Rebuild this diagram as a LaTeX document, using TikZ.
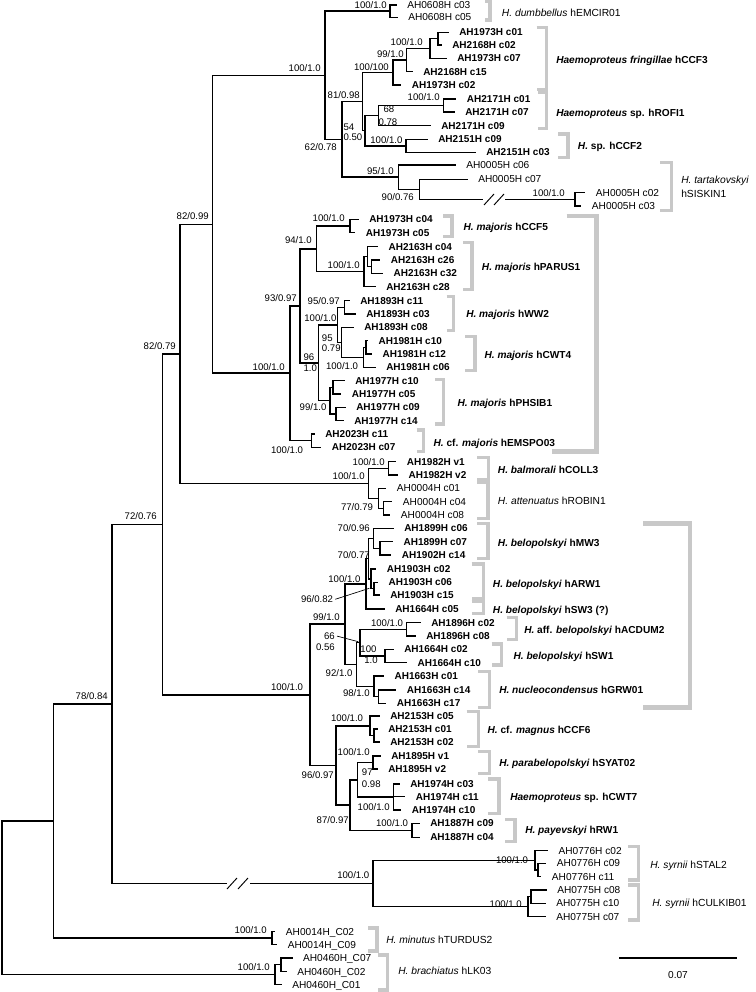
\documentclass[tikz,border=0pt]{standalone}
\usepackage{fontspec}
\setmainfont{Liberation Sans}
\definecolor{bgray}{HTML}{C8C8C8}
\tikzset{
 br/.style={line width=1.15pt, line cap=rect, black},
 leader/.style={line width=0.5pt, black},
 gbr/.style={line width=2.3pt, bgray},
 gbig/.style={line width=3.5pt, bgray},
 tipB/.style={font=\fontsize{7.5}{9}\selectfont\bfseries, inner sep=0pt, anchor=base west},
 tipR/.style={font=\fontsize{7.6}{9}\selectfont, inner sep=0pt, anchor=base west},
 supR/.style={font=\fontsize{7.2}{9}\selectfont, inner sep=0pt, anchor=base east},
 supL/.style={font=\fontsize{7.2}{9}\selectfont, inner sep=0pt, anchor=base west},
 cladeB/.style={font=\fontsize{7.6}{9.2}\selectfont\bfseries, inner sep=0pt, anchor=base west},
 cladeR/.style={font=\fontsize{7.7}{9.2}\selectfont, inner sep=0pt, anchor=base west},
}
\newcommand\mytipb[5]{\coordinate (#1) at ({#3-11},#4);\node[tipB] (#1l) at (#3,{#4+3.6}) {#5};\draw[br] (#2) |- (#1);}
\newcommand\mytipr[5]{\coordinate (#1) at ({#3-11},#4);\node[tipR] (#1l) at (#3,{#4+3.6}) {#5};\draw[br] (#2) |- (#1);}
\newcommand\mysr[4]{\node[supR] (#1) at (#2,{#3+3.4}) {#4};}
\newcommand\mysl[4]{\node[supL] (#1) at (#2,{#3+3.4}) {#4};}
\newcommand\mybr[4]{\draw[gbr] (#1,#3) -- (#2,#3) -- (#2,#4) -- (#1,#4);}
\newcommand\myclb[4]{\node[cladeB] (#1) at (#2,{#3+3.7}) {#4};}
\newcommand\myclr[4]{\node[cladeR] (#1) at (#2,{#3+3.7}) {#4};}
\begin{document}
\begin{tikzpicture}[x=0.75pt,y=-0.75pt]
\fill[white] (0,0) rectangle (756,992);
\useasboundingbox (0,0) rectangle (756,992);
% internal nodes
\coordinate (R) at (2,897.7);
\coordinate (A) at (53.6,821);
\coordinate (B) at (111.8,703.9);
\coordinate (N7276) at (162.7,524.3);
\coordinate (N8279) at (180,353.8);
\coordinate (N8299) at (212.7,224.3);
\coordinate (NTOP) at (325,75.3);
\coordinate (DUMB) at (390,11.2);
\coordinate (N6278) at (342,139.4);
\coordinate (N8198) at (362.7,101.6);
\coordinate (F1) at (393,72.5);
\coordinate (F2) at (406.7,60.1);
\coordinate (F3) at (430,48.5);
\coordinate (F4) at (438,38.7);
\coordinate (N54) at (365,130.7);
\coordinate (R1) at (378.3,115.6);
\coordinate (R2) at (443.3,105.5);
\coordinate (C2) at (406,145.8);
\coordinate (TART) at (398.3,177.2);
\coordinate (T90) at (419.3,189.3);
\coordinate (TS) at (575,199.3);
\coordinate (MAJ) at (290,373.2);
\coordinate (M93) at (300,305.8);
\coordinate (M94) at (316.7,248.9);
\coordinate (CCF5) at (350,226);
\coordinate (P1) at (364,271.7);
\coordinate (P2) at (367.3,256.7);
\coordinate (P3) at (371.7,266.7);
\coordinate (M96) at (318.3,362.8);
\coordinate (WC) at (337.5,324.8);
\coordinate (W2a) at (344.3,307.3);
\coordinate (X) at (341.7,342.3);
\coordinate (CW) at (363.3,357.3);
\coordinate (CWa) at (366,347.3);
\coordinate (PH) at (330,400.7);
\coordinate (PHa) at (333,387.3);
\coordinate (PHb) at (336,414);
\coordinate (EM) at (311.7,440.7);
\coordinate (BA) at (368.3,483.3);
\coordinate (BAL) at (388.3,468.3);
\coordinate (ATT) at (378.3,498.3);
\coordinate (ATT2) at (383.3,508.3);
\coordinate (BIG) at (310,694.8);
\coordinate (N99) at (345,624.2);
\coordinate (N9682) at (366,583.8);
\coordinate (N7077) at (368.3,558.5);
\coordinate (MW) at (373.3,538.3);
\coordinate (MWb) at (380,548.3);
\coordinate (ARW) at (371,578.8);
\coordinate (A2) at (374,588.7);
\coordinate (N92) at (356.7,664.5);
\coordinate (N66) at (360,642.7);
\coordinate (ACD) at (406.7,629.3);
\coordinate (SW1) at (385,656);
\coordinate (G) at (374,686.3);
\coordinate (G2) at (378.3,696.7);
\coordinate (N96) at (336,765.4);
\coordinate (C6) at (370,725.8);
\coordinate (C6b) at (374,735.5);
\coordinate (N87) at (350,805);
\coordinate (N97) at (357.3,779.8);
\coordinate (S) at (373,762.5);
\coordinate (W7) at (393.3,797);
\coordinate (PAY) at (412,830.3);
\coordinate (SYR) at (373.2,883.5);
\coordinate (STAL) at (535,860.3);
\coordinate (STb) at (538,870);
\coordinate (CUL) at (528,906.7);
\coordinate (CUb) at (531,896.7);
\coordinate (MIN) at (272,938);
\coordinate (BR) at (275,974.6);
\coordinate (BR2) at (281,964.7);
% break points
\coordinate (bk1a) at (226,883.5);
\coordinate (bk1b) at (251,883.5);
\coordinate (bk2a) at (482,199.3);
\coordinate (bk2b) at (506,199.3);
% internal edges
\draw[br] (R) |- (A); \draw[br] (R) |- (BR);
\draw[br] (A) |- (B); \draw[br] (A) |- (MIN);
\draw[br] (B) |- (N7276); \draw[br] (B) |- (bk1a); \draw[br] (bk1b) -- (SYR);
\draw[br] (N7276) |- (N8279); \draw[br] (N7276) |- (BIG);
\draw[br] (N8279) |- (N8299); \draw[br] (N8279) |- (BA);
\draw[br] (N8299) |- (NTOP); \draw[br] (N8299) |- (MAJ);
\draw[br] (NTOP) |- (DUMB); \draw[br] (NTOP) |- (N6278);
\draw[br] (N6278) |- (N8198); \draw[br] (N6278) |- (TART);
\draw[br] (N8198) |- (F1); \draw[br] (N8198) |- (N54);
\draw[br] (F1) |- (F2); \draw[br] (F2) |- (F3); \draw[br] (F3) |- (F4);
\draw[br] (N54) |- (R1); \draw[br] (N54) |- (C2);
\draw[br] (R1) |- (R2);
\draw[br] (TART) |- (T90);
\draw[br] (T90) |- (bk2a); \draw[br] (bk2b) -- (TS);
\draw[br] (MAJ) |- (M93); \draw[br] (MAJ) |- (EM);
\draw[br] (M93) |- (M94); \draw[br] (M93) |- (M96);
\draw[br] (M94) |- (CCF5); \draw[br] (M94) |- (P1);
\draw[br] (P1) |- (P2); \draw[br] (P2) |- (P3);
\draw[br] (M96) |- (WC); \draw[br] (M96) |- (PH);
\draw[br] (WC) |- (W2a); \draw[br] (WC) |- (X);
\draw[br] (X) |- (CW); \draw[br] (CW) |- (CWa);
\draw[br] (PH) |- (PHa); \draw[br] (PH) |- (PHb);
\draw[br] (BA) |- (BAL); \draw[br] (BA) |- (ATT); \draw[br] (ATT) |- (ATT2);
\draw[br] (BIG) |- (N99); \draw[br] (BIG) |- (N96);
\draw[br] (N99) |- (N9682); \draw[br] (N99) |- (N92);
\draw[br] (N9682) |- (N7077);
\draw[br] (N7077) |- (MW); \draw[br] (N7077) |- (ARW);
\draw[br] (MW) |- (MWb); \draw[br] (ARW) |- (A2);
\draw[br] (N92) |- (N66); \draw[br] (N92) |- (G);
\draw[br] (N66) |- (ACD); \draw[br] (N66) |- (SW1);
\draw[br] (G) |- (G2);
\draw[br] (N96) |- (C6); \draw[br] (N96) |- (N87);
\draw[br] (C6) |- (C6b);
\draw[br] (N87) |- (N97); \draw[br] (N87) |- (PAY);
\draw[br] (N97) |- (S); \draw[br] (N97) |- (W7);
\draw[br] (SYR) |- (STAL); \draw[br] (SYR) |- (CUL);
\draw[br] (STAL) |- (STb); \draw[br] (CUL) |- (CUb);
\draw[br] (BR) |- (BR2);
% break marks
\draw[line width=0.7pt] (227,889) -- (237,878); \draw[line width=0.7pt] (238,889) -- (248,878);
\draw[line width=0.7pt] (484,205) -- (494,194); \draw[line width=0.7pt] (494,205) -- (504,194);
% tips
\mytipr{t01}{DUMB}{407}{5}{AH0608H c03}
\mytipr{t02}{DUMB}{408}{17.3}{AH0608H c05}
\mytipb{t03}{F4}{459}{32.3}{AH1973H c01}
\mytipb{t04}{F4}{452}{45}{AH2168H c02}
\mytipb{t05}{F3}{457}{58.3}{AH1973H c07}
\mytipb{t06}{F2}{423}{71.7}{AH2168H c15}
\mytipb{t07}{F1}{411.7}{85}{AH1973H c02}
\mytipb{t08}{R2}{466.7}{99}{AH2171H c01}
\mytipb{t09}{R2}{465}{112}{AH2171H c07}
\mytipb{t10}{R1}{441}{125.7}{AH2171H c09}
\mytipb{t11}{C2}{438}{139.3}{AH2151H c09}
\mytipb{t12}{C2}{486}{152.3}{AH2151H c03}
\mytipr{t13}{TART}{466}{165}{AH0005H c06}
\mytipr{t14}{T90}{478}{179.3}{AH0005H c07}
\mytipr{t15}{TS}{595.7}{192.7}{AH0005H c02}
\mytipr{t16}{TS}{591.7}{206}{AH0005H c03}
\mytipb{t17}{CCF5}{369}{219.3}{AH1973H c04}
\mytipb{t18}{CCF5}{365.7}{232.7}{AH1973H c05}
\mytipb{t19}{P2}{388.3}{246.7}{AH2163H c04}
\mytipb{t20}{P3}{390.7}{260}{AH2163H c26}
\mytipb{t21}{P3}{393.3}{273.3}{AH2163H c32}
\mytipb{t22}{P1}{386}{286.7}{AH2163H c28}
\mytipb{t23}{W2a}{360}{300.7}{AH1893H c11}
\mytipb{t24}{W2a}{366}{314}{AH1893H c03}
\mytipb{t25}{X}{364}{327.3}{AH1893H c08}
\mytipb{t26}{CWa}{378.3}{340.7}{AH1981H c10}
\mytipb{t27}{CWa}{382.3}{354}{AH1981H c12}
\mytipb{t28}{CW}{386}{367.3}{AH1981H c06}
\mytipb{t29}{PHa}{355}{380.7}{AH1977H c10}
\mytipb{t30}{PHa}{351.7}{394}{AH1977H c05}
\mytipb{t31}{PHb}{356}{407.3}{AH1977H c09}
\mytipb{t32}{PHb}{354}{420.7}{AH1977H c14}
\mytipb{t33}{EM}{325}{434}{AH2023H c11}
\mytipb{t34}{EM}{331.7}{447.3}{AH2023H c07}
\mytipb{t35}{BAL}{406.7}{461.7}{AH1982H v1}
\mytipb{t36}{BAL}{408.3}{475}{AH1982H v2}
\mytipr{t37}{ATT}{396.7}{488.3}{AH0004H c01}
\mytipr{t38}{ATT2}{402.7}{501.7}{AH0004H c04}
\mytipr{t39}{ATT2}{400.7}{515}{AH0004H c08}
\mytipb{t40}{MW}{404}{528.3}{AH1899H c06}
\mytipb{t41}{MWb}{403.3}{541.7}{AH1899H c07}
\mytipb{t42}{MWb}{401.7}{555}{AH1902H c14}
\mytipb{t43}{ARW}{386.7}{569}{AH1903H c02}
\mytipb{t44}{A2}{388.3}{582.3}{AH1903H c06}
\mytipb{t45}{A2}{390}{595}{AH1903H c15}
\mytipb{t46}{N9682}{395}{609}{AH1664H c05}
\mytipb{t47}{ACD}{431}{622.7}{AH1896H c02}
\mytipb{t48}{ACD}{426}{636}{AH1896H c08}
\mytipb{t49}{SW1}{404}{649.3}{AH1664H c02}
\mytipb{t50}{SW1}{417.3}{662.7}{AH1664H c10}
\mytipb{t51}{G}{394.3}{676}{AH1663H c01}
\mytipb{t52}{G2}{406.7}{690}{AH1663H c14}
\mytipb{t53}{G2}{396.7}{703.3}{AH1663H c17}
\mytipb{t54}{C6}{390}{716}{AH2153H c05}
\mytipb{t55}{C6b}{388}{729}{AH2153H c01}
\mytipb{t56}{C6b}{390}{742}{AH2153H c02}
\mytipb{t57}{S}{391}{756}{AH1895H v1}
\mytipb{t58}{S}{388}{769}{AH1895H v2}
\mytipb{t59}{W7}{410}{784}{AH1974H c03}
\mytipb{t60}{W7}{415.7}{796.7}{AH1974H c11}
\mytipb{t61}{W7}{411.7}{810}{AH1974H c10}
\mytipb{t62}{PAY}{430}{823.3}{AH1887H c09}
\mytipb{t63}{PAY}{430}{837.3}{AH1887H c04}
\mytipr{t64}{STAL}{558.3}{850.7}{AH0776H c02}
\mytipr{t65}{STb}{556.7}{863.3}{AH0776H c09}
\mytipr{t66}{STb}{551.7}{876.7}{AH0776H c11}
\mytipr{t67}{CUb}{557}{890}{AH0775H c08}
\mytipr{t68}{CUb}{556}{903.3}{AH0775H c10}
\mytipr{t69}{CUL}{556}{916.7}{AH0775H c07}
\mytipr{t70}{MIN}{285.7}{931.5}{AH0014H\_C02}
\mytipr{t71}{MIN}{287.5}{944.5}{AH0014H\_C09}
\mytipr{t72}{BR2}{302.9}{958}{AH0460H\_C07}
\mytipr{t73}{BR2}{297}{971.4}{AH0460H\_C02}
\mytipr{t74}{BR}{292}{984.5}{AH0460H\_C01}
% support values
\mysr{s1}{387}{5}{100/1.0}
\mysr{s2}{321}{68}{100/1.0}
\mysr{s3}{423}{42}{100/1.0}
\mysr{s4}{404}{54}{99/1.0}
\mysr{s5}{389}{66.7}{100/100}
\mysr{s6}{360}{95}{81/0.98}
\mysr{s7}{440}{97}{100/1.0}
\mysl{s8}{383.3}{109.3}{68}
\mysl{s9}{378.3}{121.7}{0.78}
\mysl{s10}{343.3}{126.7}{54}
\mysl{s11}{343.3}{136.7}{0.50}
\mysr{s12}{402.7}{140}{100/1.0}
\mysr{s13}{337}{147.3}{62/0.78}
\mysr{s14}{394}{170.7}{95/1.0}
\mysr{s15}{414}{197.3}{90/0.76}
\mysr{s16}{565}{192.7}{100/1.0}
\mysr{s17}{209}{216}{82/0.99}
\mysr{s18}{345}{218.3}{100/1.0}
\mysr{s19}{312}{240}{94/1.0}
\mysr{s20}{360}{265}{100/1.0}
\mysr{s21}{297}{297.7}{93/0.97}
\mysr{s22}{340}{300.7}{95/0.97}
\mysr{s23}{336.7}{318.3}{100/1.0}
\mysl{s24}{321.7}{338.3}{95}
\mysl{s25}{321.7}{348.3}{0.79}
\mysl{s26}{303.3}{356.7}{96}
\mysl{s27}{303.3}{368.3}{1.0}
\mysr{s28}{358.3}{366}{100/1.0}
\mysr{s29}{285}{367.3}{100/1.0}
\mysr{s30}{326.7}{407.3}{99/1.0}
\mysr{s31}{303.3}{450}{100/1.0}
\mysr{s32}{385}{461.7}{100/1.0}
\mysr{s33}{365}{476}{100/1.0}
\mysr{s34}{373.3}{507.3}{77/0.79}
\mysr{s35}{176}{346}{82/0.79}
\mysr{s36}{157}{516}{72/0.76}
\mysr{s37}{370}{528.3}{70/0.96}
\mysr{s38}{370}{555}{70/0.77}
\mysr{s39}{360.7}{579}{100/1.0}
\mysr{s40}{333.3}{599.3}{96/0.82}
\mysr{s41}{340}{616.7}{99/1.0}
\mysr{s42}{403.3}{622.7}{100/1.0}
\mysr{s43}{335}{636}{66}
\mysr{s44}{335}{646.7}{0.56}
\mysr{s45}{376.7}{649.3}{100}
\mysr{s46}{378}{660}{1.0}
\mysr{s47}{352.7}{672.7}{92/1.0}
\mysr{s48}{303.3}{686.7}{100/1.0}
\mysr{s49}{370}{693.3}{98/1.0}
\mysr{s50}{363.3}{718.3}{100/1.0}
\mysr{s51}{370}{752}{100/1.0}
\mysl{s52}{361.7}{772}{97}
\mysl{s53}{361.7}{784}{0.98}
\mysr{s54}{390}{806.7}{100/1.0}
\mysr{s55}{334}{775}{96/0.97}
\mysr{s56}{349}{820}{87/0.97}
\mysr{s57}{408.3}{823.3}{100/1.0}
\mysr{s58}{528.3}{860}{100/1.0}
\mysr{s59}{522}{904}{100/1.0}
\mysr{s60}{369.6}{875.5}{100/1.0}
\mysr{s61}{108}{696}{78/0.84}
\mysr{s62}{267}{930}{100/1.0}
\mysr{s63}{270}{967}{100/1.0}
% leaders
\coordinate (ld1) at (369.3,588.3);
\coordinate (ld2) at (358.3,641.7);
\draw[leader] (s40.east) ++(2,0) -- (ld1);
\draw[leader] (s43.east) ++(2,0) -- (ld2);
% grey brackets
\mybr{485}{490}{1.5}{20}
\mybr{536.7}{546.7}{27.3}{89.3}
\mybr{538}{546.7}{92.7}{128.3}
\mybr{558}{568}{134}{157.3}
\mybr{660}{671.7}{162.7}{210.7}
\mybr{443}{452}{216}{236.7}
\mybr{463}{472}{242.7}{289.3}
\mybr{446.7}{453.3}{296.7}{330.7}
\mybr{465}{475}{336.7}{370.5}
\mybr{435}{443.3}{379.3}{424}
\mybr{416.7}{423.3}{430}{451.7}
\draw[gbig] (566.7,216) -- (596.7,216) -- (596.7,451.7) -- (551.7,451.7);
\mybr{477.3}{488.3}{457.3}{479.3}
\mybr{477}{488}{482.7}{518.3}
\mybr{477}{488}{523.3}{558.3}
\mybr{471.7}{483.3}{564}{598.3}
\mybr{471.7}{483.3}{601.7}{613.3}
\draw[gbig] (643.3,523.3) -- (690,523.3) -- (690,707.3) -- (643.3,707.3);
\mybr{506.7}{516.7}{617.3}{639.3}
\mybr{491.7}{501.7}{644}{665}
\mybr{478.3}{489.3}{671.7}{707.3}
\mybr{466.7}{478.3}{711.7}{746.7}
\mybr{478.3}{489.3}{751.7}{773.3}
\mybr{488.3}{499}{779}{813.3}
\mybr{505}{515}{819.3}{841.7}
\mybr{628.3}{638.3}{846.7}{880}
\mybr{628.3}{638.3}{885}{920}
\mybr{368}{377}{928}{951}
\mybr{378}{387.5}{955}{990}
% clade labels
\myclr{cl1}{501.7}{12.7}{\textit{H. dumbbellus} hEMCIR01}
\myclb{cl2}{556}{60}{\textit{Haemoproteus fringillae} hCCF3}
\myclb{cl3}{556}{112.3}{\textit{Haemoproteus} sp. hROFI1}
\myclb{cl4}{577.7}{145.7}{\textit{H.} sp. hCCF2}
\myclr{cl5}{681}{180}{\textit{H. tartakovskyi}}
\myclr{cl5b}{681}{193.3}{hSISKIN1}
\myclb{cl6}{463.3}{226.7}{\textit{H. majoris} hCCF5}
\myclb{cl7}{481.7}{266.7}{\textit{H. majoris} hPARUS1}
\myclb{cl8}{466}{314}{\textit{H. majoris} hWW2}
\myclb{cl9}{484.3}{354.3}{\textit{H. majoris} hCWT4}
\myclb{cl10}{457.3}{402.3}{\textit{H. majoris} hPHSIB1}
\myclb{cl11}{433.3}{442.3}{\textit{H.} cf. \textit{majoris} hEMSPO03}
\myclb{cl12}{497.7}{469.3}{\textit{H. balmorali} hCOLL3}
\myclr{cl13}{497.7}{500.7}{\textit{H. attenuatus} hROBIN1}
\myclb{cl14}{497.7}{542.3}{\textit{H. belopolskyi} hMW3}
\myclb{cl15}{492.7}{583.3}{\textit{H. belopolskyi} hARW1}
\myclb{cl16}{492.7}{609.5}{\textit{H. belopolskyi} hSW3 (?)}
\myclb{cl17}{524}{629.3}{\textit{H.} aff. \textit{belopolskyi} hACDUM2}
\myclb{cl18}{513.3}{656}{\textit{H. belopolskyi} hSW1}
\myclb{cl19}{499}{689.3}{\textit{H. nucleocondensus} hGRW01}
\myclb{cl20}{487.3}{729.3}{\textit{H.} cf. \textit{magnus} hCCF6}
\myclb{cl21}{499}{762.3}{\textit{H. parabelopolskyi} hSYAT02}
\myclb{cl22}{510}{797}{\textit{Haemoproteus} sp. hCWT7}
\myclb{cl23}{525}{830}{\textit{H. payevskyi} hRW1}
\myclr{cl24}{650}{865}{\textit{H. syrnii} hSTAL2}
\myclr{cl25}{652}{903}{\textit{H. syrnii} hCULKIB01}
\myclr{cl26}{386}{940}{\textit{H. minutus} hTURDUS2}
\myclr{cl27}{398}{971}{\textit{H. brachiatus} hLK03}
% scale bar
\coordinate (sb1) at (620,958);
\coordinate (sb2) at (736,958);
\draw[br] (sb1) -- (sb2);
\node[tipR, anchor=base] (sbl) at (678,978.6) {0.07};
\end{tikzpicture}
\end{document}
